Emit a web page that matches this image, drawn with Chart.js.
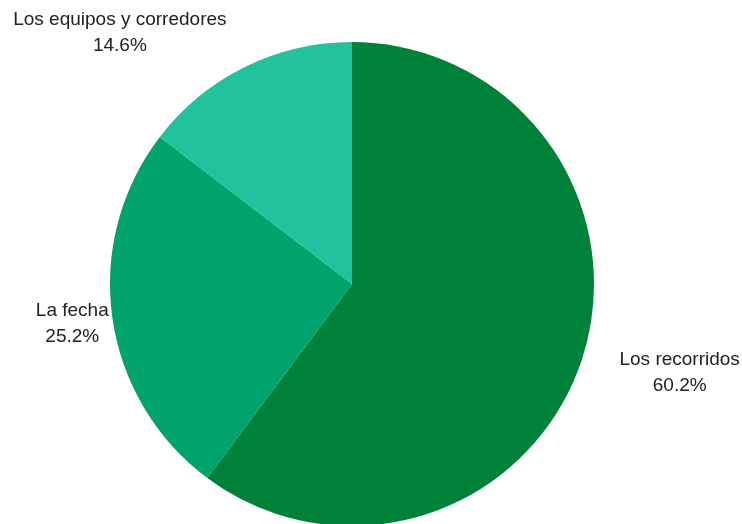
<!DOCTYPE html>
<html>
<head>
<meta charset="utf-8">
<script src="https://cdn.jsdelivr.net/npm/chart.js@4"></script>
<style>
  html, body { margin: 0; padding: 0; background: #fff; overflow: hidden; }
  #wrap { position: relative; width: 742px; height: 528px; }
</style>
</head>
<body>
<div id="wrap"><canvas id="pie"></canvas></div>
<script>
// slice data, clockwise from 12 o'clock
const labels = ["Los recorridos", "La fecha", "Los equipos y corredores"];
const shares = [60.2, 25.2, 14.6];
const colors = ["#008139", "#00a36b", "#21c29d"];

// label block centre, relative to the slice's outer edge at its mid angle
const labelOffsets = [
	{ dx: 98, dy: 13 },
	{ dx: -40, dy: 6 },
	{ dx: -125, dy: -34 },
];

const outsideLabels = {
	id: "outsideLabels",
	afterDraw(chart) {
		const ctx = chart.ctx;
		const meta = chart.getDatasetMeta(0);
		ctx.save();
		ctx.font = "19px 'Liberation Sans', Arial, sans-serif";
		ctx.fillStyle = "#222";
		ctx.textAlign = "center";
		ctx.textBaseline = "middle";
		meta.data.forEach((arc, i) => {
			const p = arc.getProps(["x", "y", "startAngle", "endAngle", "outerRadius"], true);
			const mid = (p.startAngle + p.endAngle) / 2;
			const x = p.x + Math.cos(mid) * p.outerRadius + labelOffsets[i].dx;
			const y = p.y + Math.sin(mid) * p.outerRadius + labelOffsets[i].dy;
			ctx.fillText(labels[i], x, y - 13);
			ctx.fillText(shares[i].toFixed(1) + "%", x, y + 13);
		});
		ctx.restore();
	}
};

new Chart(document.getElementById("pie"), {
	type: "pie",
	data: {
		labels: labels,
		datasets: [{
			data: shares,
			backgroundColor: colors,
			borderWidth: 0,
		}]
	},
	options: {
		responsive: true,
		maintainAspectRatio: false,
		animation: false,
		layout: { padding: { left: 110, right: 148, top: 42, bottom: 2 } },
		plugins: {
			legend: { display: false },
			tooltip: { enabled: false },
		}
	},
	plugins: [outsideLabels]
});
</script>
</body>
</html>
